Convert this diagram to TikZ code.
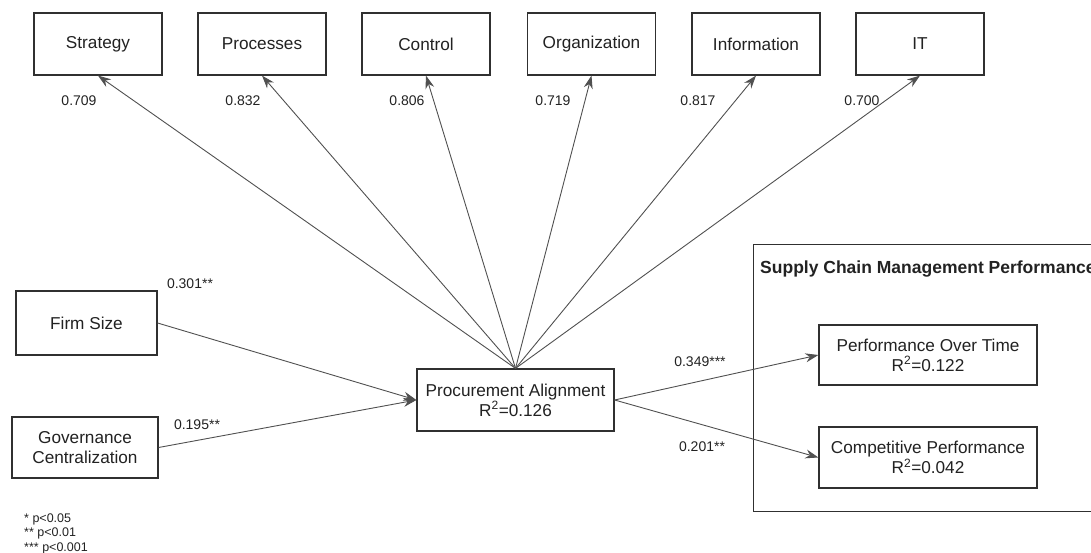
\documentclass[tikz,border=0pt]{standalone}
\usepackage{fontspec}
\setmainfont{Liberation Sans}
\usetikzlibrary{arrows.meta}
\definecolor{linec}{HTML}{505050}
\definecolor{boxc}{HTML}{303030}
\definecolor{txtc}{HTML}{222222}
\tikzset{
  box/.style={draw=boxc, line width=1.2pt, fill=white, align=center, text=txtc,
    font=\fontsize{17.2}{20}\selectfont, inner sep=0pt},
  topbox/.style={box, minimum width=128pt, minimum height=62pt},
  lbl/.style={text=txtc, font=\fontsize{14}{16}\selectfont, inner sep=0pt},
  fnote/.style={text=txtc, font=\fontsize{12.5}{14}\selectfont, inner sep=0pt, anchor=base west},
  arr/.style={draw=linec, line width=0.9pt, -{Stealth[length=13pt, width=9pt]}}
}
\begin{document}
\begin{tikzpicture}[x=1pt, y=-1pt]
\useasboundingbox (0,0) rectangle (1091,553);
% container
\node[draw=boxc, line width=1.2pt, minimum width=360pt, minimum height=267pt, anchor=north west, inner sep=0pt] (scm) at (753,244) {};
\node[anchor=west, text=txtc, font=\bfseries\fontsize{17.5}{20}\selectfont, inner sep=0pt] (scmtitle) at (760,269) {Supply Chain Management Performance};
% top boxes
\node[topbox] (strat) at (98,44) {Strategy};
\node[topbox] (proc) at (262,44) {Processes};
\node[topbox] (ctrl) at (426,44) {Control};
\node[topbox] (org) at (591.5,44) {Organization};
\node[topbox] (info) at (756,44) {Information};
\node[topbox] (it) at (920,44) {IT};
% loadings
\node[lbl] (l1) at (79,101) {0.709};
\node[lbl] (l2) at (243,101) {0.832};
\node[lbl] (l3) at (407,101) {0.806};
\node[lbl] (l4) at (553,101) {0.719};
\node[lbl] (l5) at (698,101) {0.817};
\node[lbl] (l6) at (862,101) {0.700};
% main boxes
\node[box, minimum width=141pt, minimum height=64pt] (firm) at (86.5,323) {Firm Size};
\node[box, minimum width=146pt, minimum height=61pt] (gov) at (85,447.5) {Governance\\Centralization};
\node[box, minimum width=197pt, minimum height=62pt] (pa) at (515.5,400) {Procurement Alignment\\R\textsuperscript{2}=0.126};
\node[box, minimum width=218pt, minimum height=60pt] (pot) at (928,355) {Performance Over Time\\R\textsuperscript{2}=0.122};
\node[box, minimum width=218pt, minimum height=61pt] (cp) at (928,457.5) {Competitive Performance\\R\textsuperscript{2}=0.042};
% arrows
\foreach \t in {strat,proc,ctrl,org,info,it}{
  \draw[arr] (pa.north) -- (\t.south);
}
\draw[arr] (firm.east) -- (pa.west);
\draw[arr] (gov.east) -- (pa.west);
\draw[arr] (pa.east) -- (pot.west);
\draw[arr] (pa.east) -- (cp.west);
% path labels
\node[lbl] (e1) at (190,284) {0.301**};
\node[lbl] (e2) at (197,425) {0.195**};
\node[lbl] (e3) at (700,362) {0.349***};
\node[lbl] (e4) at (702,447) {0.201**};
% footnotes
\node[fnote] (f1) at (24,522) {* p<0.05};
\node[fnote] (f2) at (24,536.5) {** p<0.01};
\node[fnote] (f3) at (24,551) {*** p<0.001};
\end{tikzpicture}
\end{document}
